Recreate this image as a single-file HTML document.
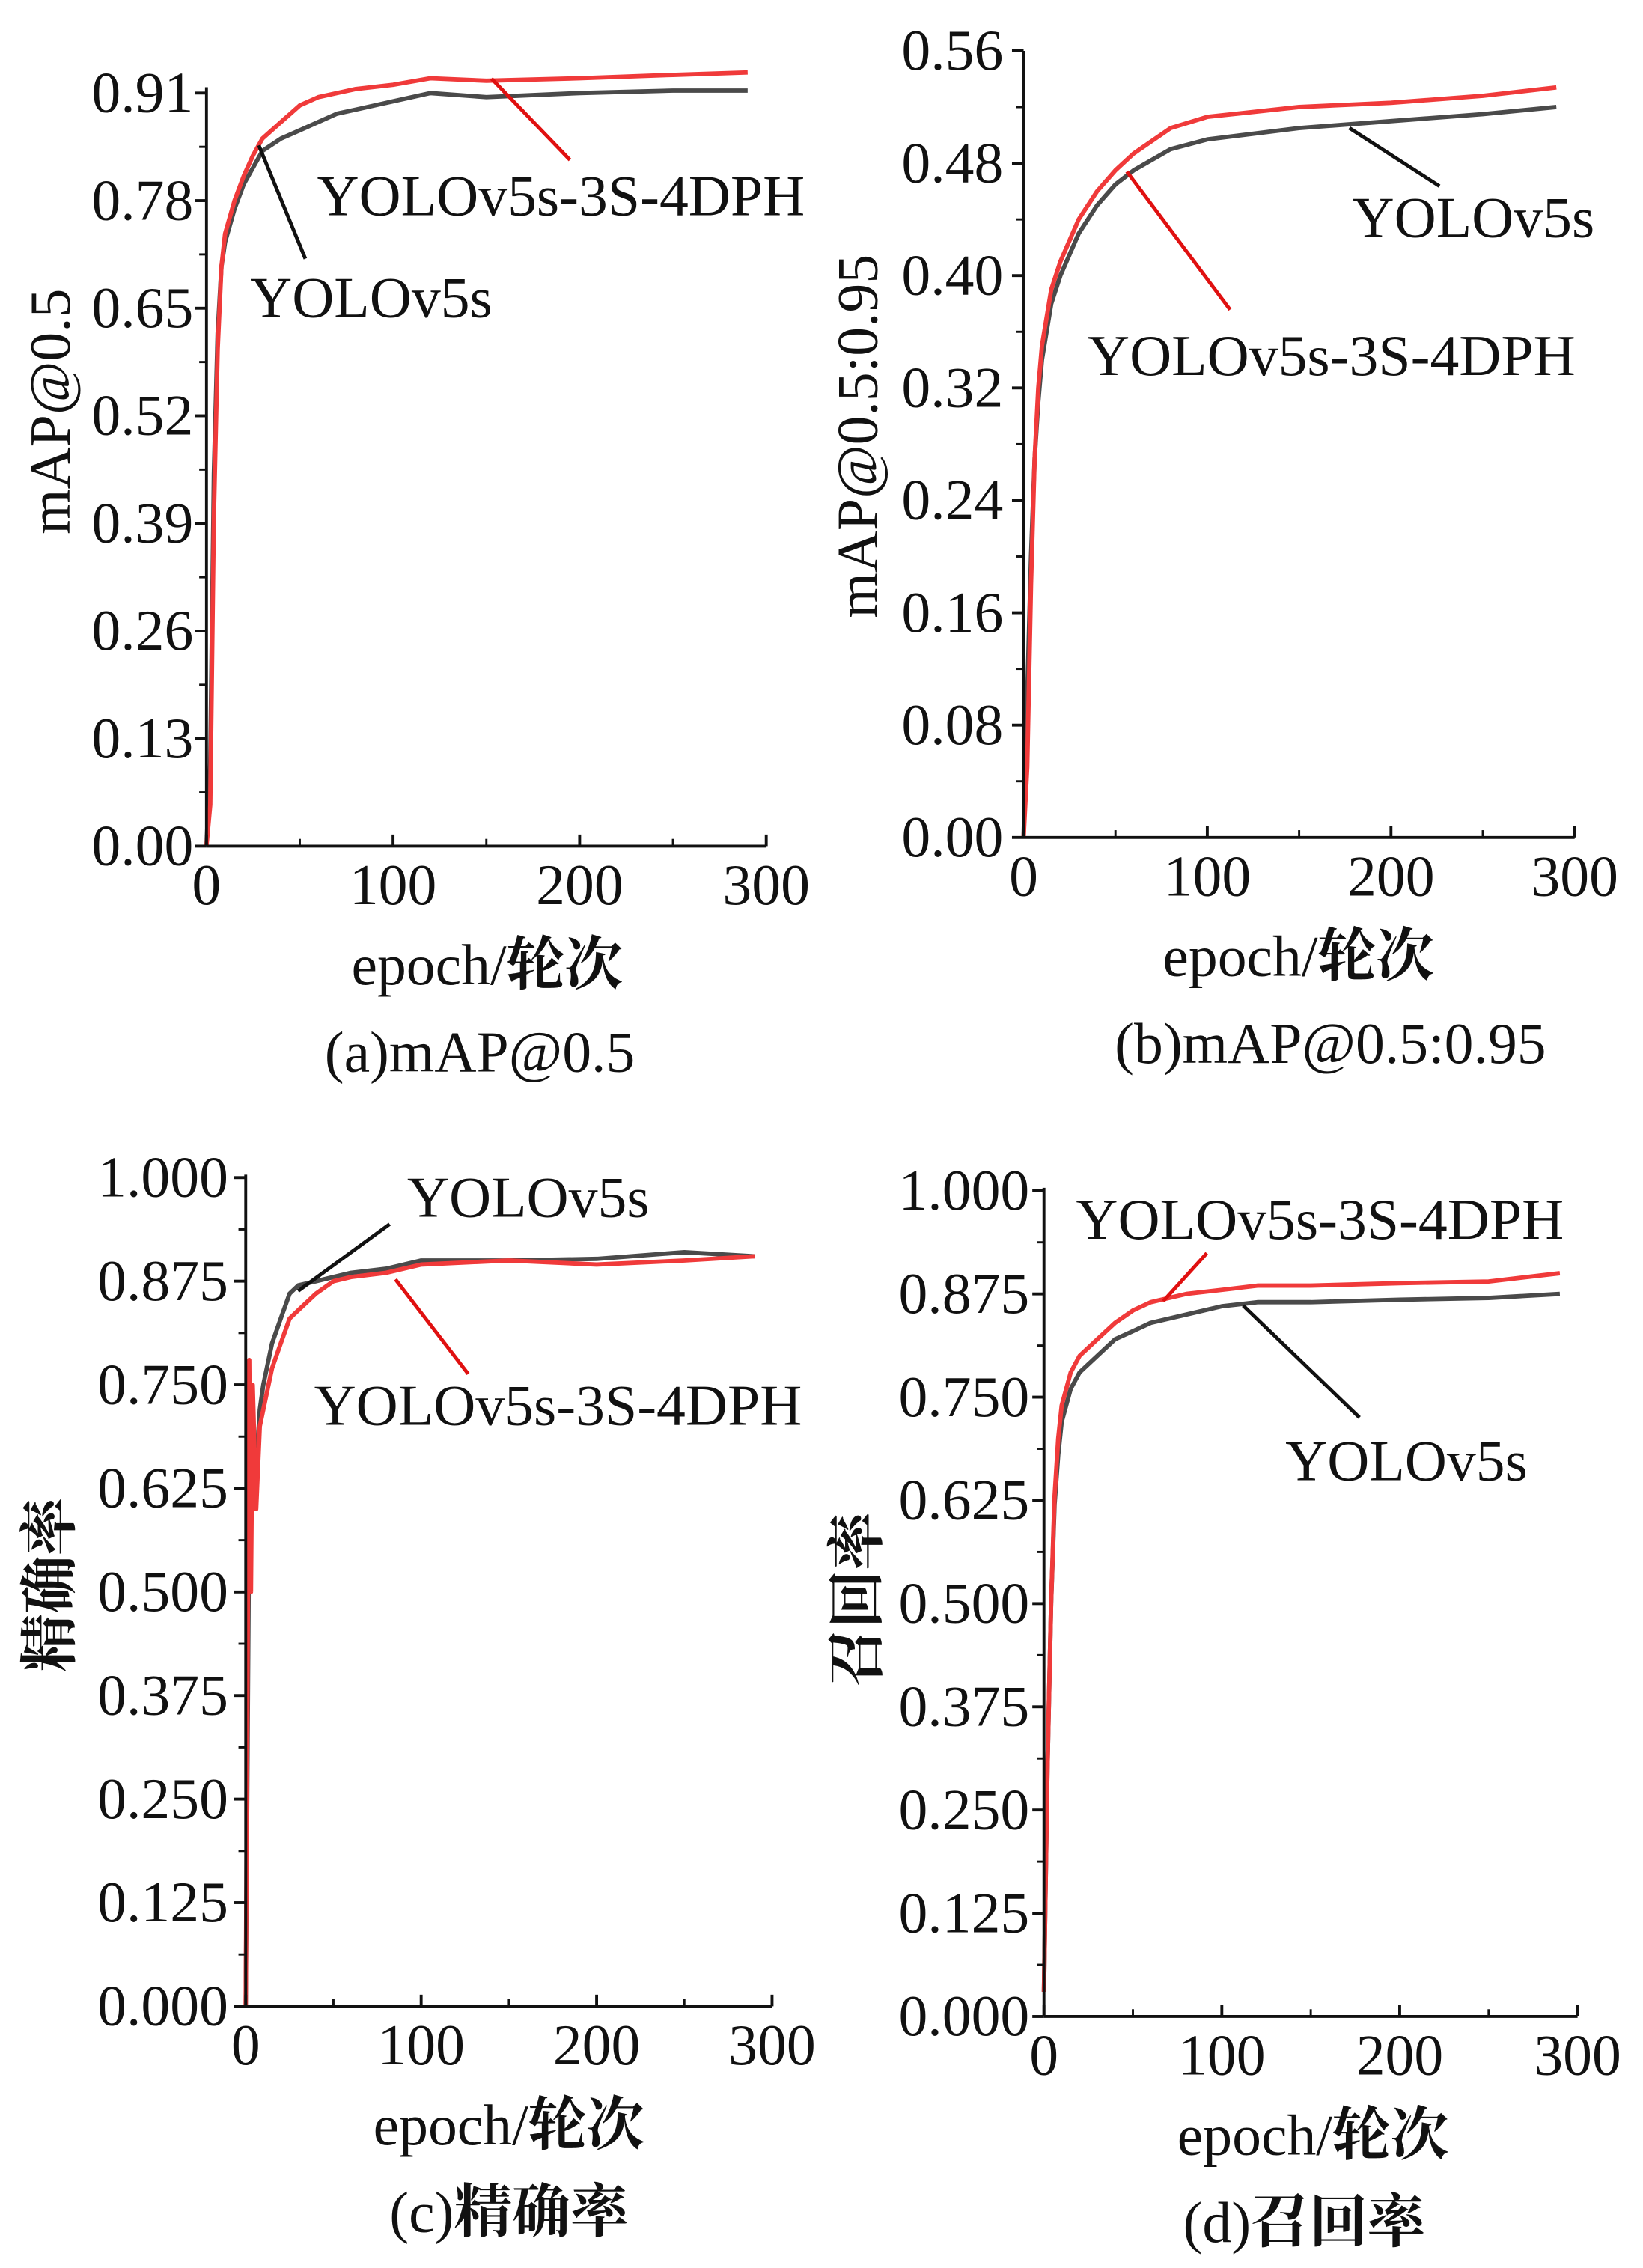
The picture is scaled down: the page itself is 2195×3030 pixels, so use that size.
<!DOCTYPE html>
<html><head><meta charset="utf-8"><style>
html,body{margin:0;padding:0;background:#fff;}
svg{display:block;}
text{font-family:"Liberation Serif","Noto Serif CJK SC","Noto Sans CJK SC",serif;fill:#111;}
.cjk{font-family:"Noto Serif CJK SC","Noto Sans CJK SC",serif;font-weight:700;}
</style></head><body>
<svg id="fig" width="2195" height="3030" viewBox="0 0 1130 1560" preserveAspectRatio="none" xmlns="http://www.w3.org/2000/svg"></svg>
<script>
const epochsA=[0,2,4,6,8,10,15,20,25,30,40,50,60,70,80,100,120,150,200,250,290];
const baseA=[0,0.1,0.45,0.62,0.7,0.73,0.77,0.8,0.82,0.84,0.855,0.865,0.875,0.885,0.89,0.9,0.91,0.905,0.91,0.913,0.913];
const oursA=[0,0.05,0.4,0.6,0.7,0.74,0.78,0.81,0.835,0.855,0.875,0.895,0.905,0.91,0.915,0.92,0.928,0.925,0.928,0.932,0.935];
const epochsB=[0,2,4,6,8,10,15,20,30,40,50,60,80,100,150,200,250,290];
const baseB=[0,0.1,0.2,0.27,0.31,0.34,0.38,0.4,0.43,0.45,0.465,0.475,0.49,0.497,0.505,0.51,0.515,0.52];
const oursB=[0,0.05,0.18,0.27,0.32,0.35,0.39,0.41,0.44,0.46,0.475,0.487,0.505,0.513,0.52,0.523,0.528,0.534];
const epochsC=[0,2,3,4,6,8,10,15,20,25,30,40,50,60,80,100,150,200,250,290];
const baseC=[0,0.6,0.7,0.68,0.65,0.72,0.75,0.8,0.83,0.86,0.87,0.875,0.88,0.885,0.89,0.9,0.9,0.902,0.91,0.905];
const oursC=[0,0.78,0.5,0.75,0.6,0.7,0.72,0.77,0.8,0.83,0.84,0.86,0.875,0.88,0.885,0.895,0.9,0.895,0.9,0.905];
const epochsD=[0,2,4,6,8,10,15,20,30,40,50,60,80,100,120,150,200,250,290];
const baseD=[0.03,0.3,0.5,0.62,0.68,0.72,0.76,0.78,0.8,0.82,0.83,0.84,0.85,0.86,0.865,0.865,0.868,0.87,0.875];
const oursD=[0.03,0.3,0.5,0.63,0.7,0.74,0.78,0.8,0.82,0.84,0.855,0.865,0.875,0.88,0.885,0.885,0.888,0.89,0.9];
const ticksA=["0.00","0.13","0.26","0.39","0.52","0.65","0.78","0.91"];
const ticksB=["0.00","0.08","0.16","0.24","0.32","0.40","0.48","0.56"];
const ticksCD=["0.000","0.125","0.250","0.375","0.500","0.625","0.750","0.875","1.000"];
const xTicks=["0","100","200","300"];

const NS="http://www.w3.org/2000/svg";
const svg=document.getElementById('fig');
function el(tag,attrs,parent){const e=document.createElementNS(NS,tag);for(const k in attrs)e.setAttribute(k,attrs[k]);(parent||svg).appendChild(e);return e;}
function mixed(t,str){
  const parts=str.split(/([\u4e00-\u9fff]+)/);
  parts.forEach(s=>{if(!s)return;const sp=el('tspan',{},t);if(/[\u4e00-\u9fff]/.test(s))sp.setAttribute('class','cjk');sp.textContent=s;});
}

const panels=[
 {id:'a',x0:142,x1:527,y0:582,yTop:64,ymax:0.91,ticks:ticksA,ep:epochsA,base:baseA,ours:oursA,axTop:60,
  ytitle:'mAP@0.5',ytx:35,yty:283,lblX:133,xtC:335,cap:'(a)mAP@0.5',capX:330,
  ann:[{t:'YOLOv5s-3S-4DPH',x:218,y:148,c:'#e01010',l:[338,54,392,110]},{t:'YOLOv5s',x:172,y:218,c:'#111',l:[178,100,210,178]}]},
 {id:'b',x0:704,x1:1083,y0:576,yTop:35,ymax:0.56,ticks:ticksB,ep:epochsB,base:baseB,ours:oursB,axTop:35,
  ytitle:'mAP@0.5:0.95',ytx:590,yty:300,lblX:690,xtC:893,cap:'(b)mAP@0.5:0.95',capX:915,
  ann:[{t:'YOLOv5s',x:930,y:163,c:'#111',l:[928,88,990,128]},{t:'YOLOv5s-3S-4DPH',x:748,y:258,c:'#e01010',l:[775,118,846,213]}]},
 {id:'c',x0:169,x1:531,y0:1380,yTop:810,ymax:1,ticks:ticksCD,ep:epochsC,base:baseC,ours:oursC,axTop:808,
  ytitle:'精确率',ytx:35,yty:1090,lblX:157,xtC:350,cap:'(c)精确率',capX:350,
  ann:[{t:'YOLOv5s',x:280,y:837,c:'#111',l:[268,842,205,888]},{t:'YOLOv5s-3S-4DPH',x:216,y:980,c:'#e01010',l:[272,880,322,945]}]},
 {id:'d',x0:718,x1:1085,y0:1387,yTop:819,ymax:1,ticks:ticksCD,ep:epochsD,base:baseD,ours:oursD,axTop:817,
  ytitle:'召回率',ytx:590,yty:1100,lblX:708,xtC:903,cap:'(d)召回率',capX:897,
  ann:[{t:'YOLOv5s-3S-4DPH',x:740,y:852,c:'#e01010',l:[830,862,800,895]},{t:'YOLOv5s',x:884,y:1018,c:'#111',l:[855,898,935,975]}]}
];

panels.forEach(p=>{
 const g=el('g',{});
 
 
 const xs=v=>p.x0+(p.x1-p.x0)*v/300;
 const ys=v=>p.y0-(p.y0-p.yTop)*v/p.ymax;
 [['base','#4a4a4a'],['ours','#f03a3a']].forEach(([k,c])=>{
  const d=p.ep.map((e,i)=>(i?'L':'M')+xs(e).toFixed(1)+','+ys(p[k][i]).toFixed(1)).join(' ');
  const path=el('path',{d:d,fill:'none',stroke:c,'stroke-width':3,'stroke-linejoin':'round'},g);
  
  
 });
 const ya=el('line',{x1:p.x0,y1:p.axTop,x2:p.x0,y2:p.y0,stroke:'#111','stroke-width':2},g);
 
 
 const xa=el('line',{x1:p.x0,y1:p.y0,x2:p.x1,y2:p.y0,stroke:'#111','stroke-width':2},g);
 
 
 const n=p.ticks.length-1;
 p.ticks.forEach((t,i)=>{
  const v=p.ymax*i/n, y=ys(v);
  el('line',{x1:p.x0-8,y1:y,x2:p.x0,y2:y,stroke:'#111','stroke-width':2},g);
  if(i<n){const ym=ys(p.ymax*(i+0.5)/n);el('line',{x1:p.x0-5,y1:ym,x2:p.x0,y2:ym,stroke:'#111','stroke-width':1.5},g);}
  const tx=el('text',{x:p.lblX,y:y+13,'font-size':40,'text-anchor':'end'},g);
  tx.textContent=t;
  
  
 });
 xTicks.forEach((t,i)=>{
  const x=xs(+t);
  el('line',{x1:x,y1:p.y0,x2:x,y2:p.y0-8,stroke:'#111','stroke-width':2},g);
  if(i<3){const xm=xs(+t+50);el('line',{x1:xm,y1:p.y0,x2:xm,y2:p.y0-5,stroke:'#111','stroke-width':1.5},g);}
  const tx=el('text',{x:x,y:p.y0+40,'font-size':40,'text-anchor':'middle'},g);
  tx.textContent=t;
  
  
 });
 const yt=el('text',{x:p.ytx,y:p.yty,'font-size':40,'text-anchor':'middle',transform:'rotate(-90 '+p.ytx+' '+p.yty+')',dy:13},g);
 mixed(yt,p.ytitle);
 
 
 const xt=el('text',{x:p.xtC,y:p.y0+95,'font-size':40,'text-anchor':'middle'},g);
 mixed(xt,'epoch/轮次');
 
 
 const cp=el('text',{x:p.capX,y:p.y0+155,'font-size':40,'text-anchor':'middle'},g);
 mixed(cp,p.cap);
 
 
 p.ann.forEach(a=>{
  const ln=el('line',{x1:a.l[0],y1:a.l[1],x2:a.l[2],y2:a.l[3],stroke:a.c,'stroke-width':2.5},g);
  
  
  const tx=el('text',{x:a.x,y:a.y,'font-size':40},g);
  tx.textContent=a.t;
  
  
 });
});
</script>
</body></html>
